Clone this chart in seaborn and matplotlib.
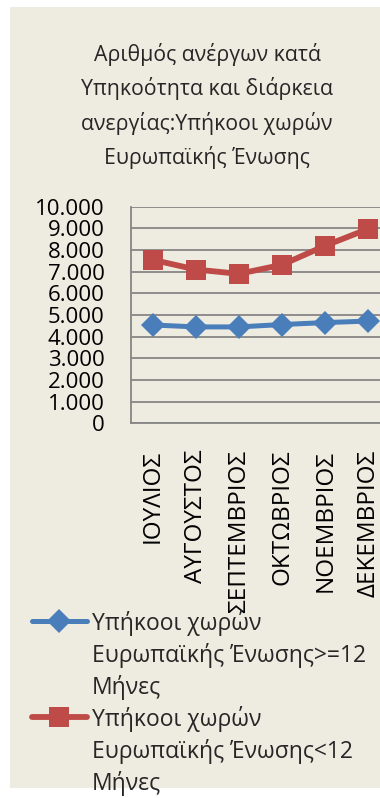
#!/usr/bin/env python3
"""
Unemployed EU nationals by duration of unemployment, Jul-Dec.
Outputs: out.png
"""
import pandas as pd
import matplotlib.pyplot as plt
import seaborn as sns
from matplotlib.patches import Rectangle
from matplotlib.lines import Line2D
from matplotlib.ticker import FuncFormatter, FixedLocator

months = ["ΙΟΥΛΙΟΣ", "ΑΥΓΟΥΣΤΟΣ", "ΣΕΠΤΕΜΒΡΙΟΣ", "ΟΚΤΩΒΡΙΟΣ", "ΝΟΕΜΒΡΙΟΣ", "ΔΕΚΕΜΒΡΙΟΣ"]
over_12 = [4540, 4450, 4450, 4560, 4650, 4720]
under_12 = [7550, 7100, 6900, 7320, 8200, 8980]
series_names = [
    "Υπήκοοι χωρών\nΕυρωπαϊκής Ένωσης>=12\nΜήνες",
    "Υπήκοοι χωρών\nΕυρωπαϊκής Ένωσης<12\nΜήνες",
]
title = "Αριθμός ανέργων κατά\nΥπηκοότητα και διάρκεια\nανεργίας:Υπήκοοι χωρών\nΕυρωπαϊκής Ένωσης"

BG = "#EEECE1"
GRID = "#868686"
BLUE = "#4A7EBB"
RED = "#BE4B48"

sns.set_theme(style="white")
plt.rcParams["font.family"] = ["Open Sans", "DejaVu Sans"]
FS = 16

W, H = 380, 798
fig = plt.figure(figsize=(W / 100, H / 100), dpi=100)
fig.patch.set_facecolor("white")
fig.patches.append(Rectangle((10 / W, 1 - 788 / H), 1.0, (788 - 7) / H,
                             transform=fig.transFigure, facecolor=BG,
                             edgecolor="none", zorder=-5))

ax = fig.add_axes([131 / W, 1 - 423.3 / H, 259 / W, 216.6 / H])
ax.set_facecolor(BG)

df = pd.DataFrame({"month": months, "over": over_12, "under": under_12})
styles = [("over", BLUE, "D", 12, 3.6), ("under", RED, "s", 14.5, 4.2)]
for col, c, m, ms, lw in styles:
    sns.lineplot(data=df, x="month", y=col, ax=ax, color=c, lw=lw,
                 marker=m, markersize=ms, markeredgewidth=0)

ax.set_xlim(-0.5, len(months) - 0.5)
ax.set_ylim(0, 10000)
ax.set_yticks(range(0, 10001, 1000))
ax.yaxis.set_major_formatter(FuncFormatter(lambda v, p: f"{int(v):,}".replace(",", ".")))
ax.yaxis.grid(True, color=GRID, lw=1.3)
ax.set_axisbelow(True)
ax.set_xlabel("")
ax.set_ylabel("")

for s in ["top", "right"]:
    ax.spines[s].set_visible(False)
for s in ["left", "bottom"]:
    ax.spines[s].set_color(GRID)
    ax.spines[s].set_linewidth(1.3)

ax.tick_params(axis="y", which="major", length=6, width=1.3, color=GRID,
               labelsize=FS, pad=13, labelcolor="black")
ax.tick_params(axis="x", which="major", length=0, labelsize=17.5, pad=19,
               labelrotation=90, labelcolor="black")
ax.xaxis.set_minor_locator(FixedLocator([i - 0.5 for i in range(len(months) + 1)]))
ax.tick_params(axis="x", which="minor", length=6, width=1.3, color=GRID)
for lab in ax.get_xticklabels():
    lab.set_verticalalignment("top")

# legend drawn by hand so the key sits on the first line of each label
legend_base = [630, 726]
for (col, c, m, ms, lw), name, yb in zip(styles, series_names, legend_base):
    fy = 1 - (yb - 9) / H
    fig.add_artist(Line2D([32 / W, 59.5 / W, 87 / W], [fy, fy, fy], color=c, lw=lw,
                          marker=m, markersize=ms, markeredgewidth=0, markevery=[1],
                          transform=fig.transFigure))
    for i, line in enumerate(name.split("\n")):
        fig.text(92 / W, 1 - (yb + i * 32) / H, line, ha="left", va="baseline",
                 fontsize=16.5)

fig.text(207 / W, 1 - 106 / H, title, ha="center", va="center",
         fontsize=15.3, linespacing=1.62)

fig.savefig("out.png", dpi=100, facecolor="white")
plt.close(fig)
